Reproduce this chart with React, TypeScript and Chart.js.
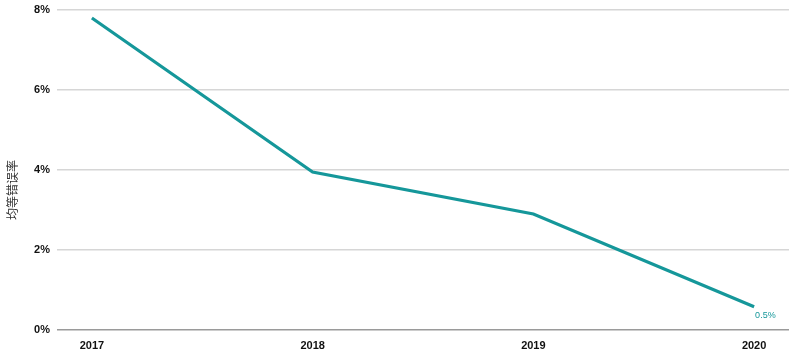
import React, { useEffect, useRef } from "react";
import { Chart, registerables } from "chart.js";

Chart.register(...registerables);

const years = ["2017", "2018", "2019", "2020"];
const errorRate = [7.8, 3.95, 2.9, 0.58];
const yTicks = [0, 2, 4, 6, 8];
const endLabel = "0.5%";
const yTitle = "均等错误率";

const TEAL = "#15979a";

const overlayPlugin = {
  id: "overlay",
  afterDatasetsDraw(chart: any) {
    const { ctx } = chart;
    const meta = chart.getDatasetMeta(0);
    const last = meta.data[meta.data.length - 1];
    ctx.save();
    ctx.fillStyle = TEAL;
    ctx.font = "9px 'Liberation Sans', Arial, sans-serif";
    ctx.textAlign = "left";
    ctx.textBaseline = "middle";
    ctx.fillText(endLabel, last.x + 1, last.y + 9);
    ctx.restore();

    ctx.save();
    ctx.fillStyle = "#333";
    ctx.font = "12px 'Noto Sans CJK SC', sans-serif";
    ctx.textAlign = "center";
    ctx.textBaseline = "middle";
    ctx.translate(12, 190);
    ctx.rotate(-Math.PI / 2);
    ctx.fillText(yTitle, 0, 0);
    ctx.restore();
  },
};

export default function App() {
  const ref = useRef<HTMLCanvasElement | null>(null);
  useEffect(() => {
    if (!ref.current) return;
    const chart = new Chart(ref.current, {
      type: "line",
      data: {
        datasets: [
          {
            data: errorRate.map((v, i) => ({ x: i, y: v })),
            borderColor: TEAL,
            borderWidth: 3.2,
            pointRadius: 0,
            tension: 0,
            fill: false,
          },
        ],
      },
      options: {
        animation: false,
        responsive: false,
        maintainAspectRatio: false,
        layout: { padding: { top: 10, right: 11, left: 0, bottom: 0 } },
        plugins: { legend: { display: false }, tooltip: { enabled: false } },
        scales: {
          x: {
            type: "linear",
            min: -0.158,
            max: 3.158,
            grid: { display: false, drawTicks: false },
            border: { display: false },
            afterBuildTicks: (scale: any) => {
              scale.ticks = years.map((_, i) => ({ value: i }));
            },
            afterFit: (scale: any) => {
              scale.height = 26;
              scale.paddingLeft = 0;
              scale.paddingRight = 0;
            },
            ticks: {
              autoSkip: false,
              maxRotation: 0,
              padding: 9,
              color: "#111",
              font: { family: "'Liberation Sans', Arial, sans-serif", size: 11, weight: "bold" },
              callback: (v: any) => years[Math.round(Number(v))] ?? "",
            },
          },
          y: {
            min: 0,
            max: 8,
            afterBuildTicks: (scale: any) => {
              scale.ticks = yTicks.map((v) => ({ value: v }));
            },
            afterFit: (scale: any) => {
              scale.width = 57;
              scale.paddingTop = 0;
              scale.paddingBottom = 0;
            },
            grid: {
              drawTicks: false,
              lineWidth: 1.5,
              color: (c: any) => (c.tick && c.tick.value === 0 ? "#9a9a9a" : "#d6d6d6"),
            },
            border: { display: false },
            ticks: {
              padding: 7,
              color: "#111",
              font: { family: "'Liberation Sans', Arial, sans-serif", size: 11, weight: "bold" },
              callback: (v: any) => `${v}%`,
            },
          },
        },
      },
      plugins: [overlayPlugin],
    });
    return () => chart.destroy();
  }, []);
  return (
    <div style={{ position: "fixed", left: 0, top: 0, width: 800, height: 356, background: "#fff" }}>
      <canvas ref={ref} width={800} height={356} style={{ display: "block" }} />
    </div>
  );
}
